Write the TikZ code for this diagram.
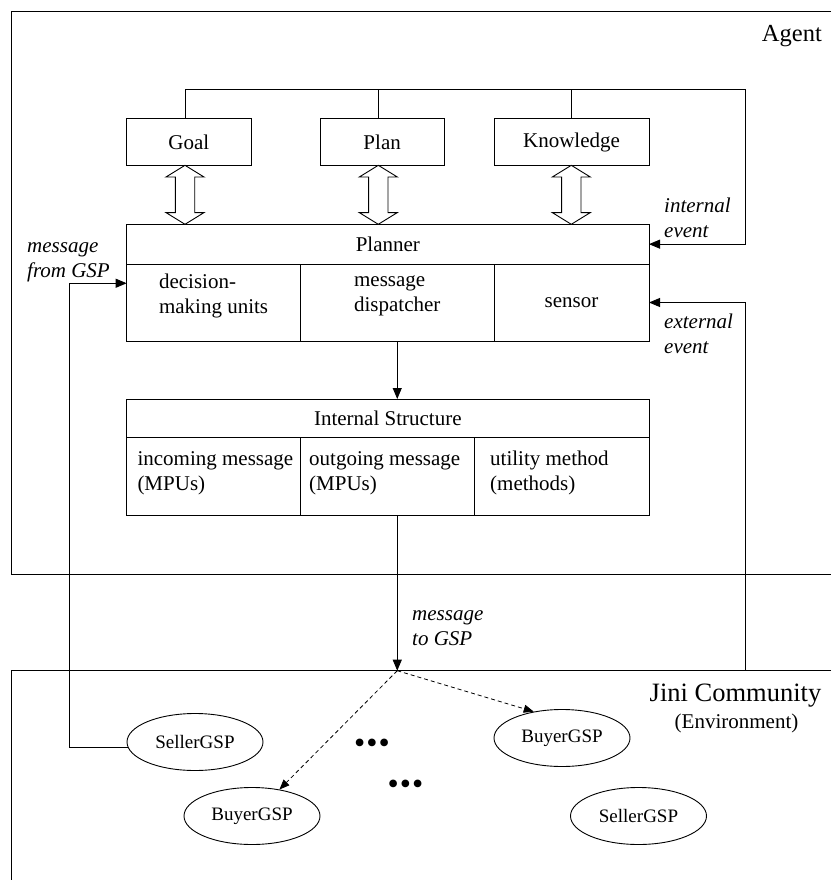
\documentclass[tikz,border=0pt]{standalone}
\usepackage{fontspec}
\setmainfont{Liberation Serif}
\usetikzlibrary{arrows.meta,calc,shapes.geometric}

% hollow two-headed vertical arrow between a top tip (#1) and a bottom tip (#2)
\newcommand\dblarrow[2]{%
  \draw[dbl] (#1) -- ++(19,11.7) -- ++(-9.3,0) -- ($(#2)+(9.7,-11.7)$) -- ++(9.3,0) -- (#2)
    -- ++(-19,-11.7) -- ++(9.3,0) -- ($(#1)+(-9.7,11.7)$) -- ++(-9.3,0) -- cycle;}

\tikzset{
  frame/.style={line width=0.9pt},
  box/.style={draw, line width=0.9pt, inner sep=0pt, outer sep=0pt, anchor=north west,
              font=\fontsize{21}{25}\selectfont},
  txt/.style={inner sep=0pt, align=left, font=\fontsize{21}{25}\selectfont},
  celltxt/.style={txt, anchor=north west},
  lbl/.style={inner sep=0pt, align=left, anchor=north west, font=\fontsize{21}{25}\selectfont\itshape},
  gsp/.style={ellipse, draw, line width=0.9pt, minimum width=136pt, minimum height=57pt,
              inner sep=0pt, font=\fontsize{19}{23}\selectfont},
  arr/.style={line width=0.9pt, -{Triangle[length=11pt,width=9pt]}},
  dasharr/.style={line width=0.8pt, dash pattern=on 4pt off 3pt, -{Triangle[length=10pt,width=8pt]}},
  dbl/.style={line width=0.9pt, fill=white},
  dots/.style={inner sep=0pt, font=\fontsize{32}{36}\selectfont},
}

\begin{document}
\begin{tikzpicture}[x=1pt,y=-1pt]
\useasboundingbox (0,0) rectangle (831,880);

% ---------- Agent frame ----------
\coordinate (anw) at (11,11);
\coordinate (asw) at (11,574);
\draw[frame] (831,11) -- (anw) -- (asw) -- (831,574);
\node[anchor=base east, inner sep=0pt, font=\fontsize{24.5}{28}\selectfont] (agent) at (822,41.7) {Agent};

% ---------- Goal / Plan / Knowledge ----------
\node[box, minimum width=124.3pt, minimum height=46.6pt] (goal) at (126.7,118.7) {Goal};
\node[box, minimum width=124.3pt, minimum height=46.6pt] (plan) at (320,118.7) {Plan};
\node[box, minimum width=155pt, minimum height=46.6pt] (know) at (494,118.7) {Knowledge};

\coordinate (gx) at (185,0);
\coordinate (px) at (378.3,0);
\coordinate (kx) at (571.3,0);
\coordinate (tr) at (745.7,89);

% ---------- Planner ----------
\node[box, minimum width=522.3pt, minimum height=39.7pt] (ph) at (126.7,224.3) {Planner};
\node[box, minimum width=173.8pt, minimum height=77pt] (c1) at (126.7,264) {};
\node[box, minimum width=193.5pt, minimum height=77pt] (c2) at (300.5,264) {};
\node[box, minimum width=155pt, minimum height=77pt] (c3) at (494,264) {sensor};
\node[txt, yshift=7pt] (t1) at (c1.center) {decision-\\making units};
\node[txt, yshift=7pt] (t2) at (c2.center) {message\\dispatcher};

% ---------- Internal Structure ----------
\node[box, minimum width=522.3pt, minimum height=38.7pt] (ish) at (126.7,399) {Internal Structure};
\node[box, minimum width=174pt, minimum height=77.8pt] (d1) at (126.7,437.7) {};
\node[box, minimum width=174pt, minimum height=77.8pt] (d2) at (300.7,437.7) {};
\node[box, minimum width=174.3pt, minimum height=77.8pt] (d3) at (474.7,437.7) {};
\node[celltxt] (u1) at ($(d1.north west)+(10.6,9.8)$) {\strut incoming message\\(MPUs)};
\node[celltxt] (u2) at ($(d2.north west)+(8.3,9.8)$) {\strut outgoing message\\(MPUs)};
\node[celltxt] (u3) at ($(d3.north west)+(15.3,9.8)$) {\strut utility method\\(methods)};

% ---------- feedback loop (internal event) ----------
\draw[arr] (gx |- goal.north) |- (tr) |- (ph.east);
\draw[frame] (px |- plan.north) -- (px |- tr);
\draw[frame] (kx |- know.north) -- (kx |- tr);
\node[lbl] (ie) at (664,194.5) {\strut internal\\event};

% ---------- hollow double arrows ----------
\dblarrow{gx |- goal.south}{gx |- ph.north}
\dblarrow{px |- plan.south}{px |- ph.north}
\dblarrow{kx |- know.south}{kx |- ph.north}

% ---------- Jini community frame ----------
\coordinate (jnw) at (11,670.7);
\draw[frame] (831,670.7) -- (jnw) -- (11,880);
\node[anchor=base, inner sep=0pt, font=\fontsize{26.5}{30}\selectfont] (jini) at (735.5,701.7) {Jini Community};
\node[anchor=base, inner sep=0pt, font=\fontsize{21}{25}\selectfont] (env) at (736.5,728) {(Environment)};

% ---------- services ----------
\node[gsp] (s1) at (195,742) {SellerGSP};
\node[gsp] (b1) at (562,738) {BuyerGSP};
\node[gsp] (b2) at (252,816) {BuyerGSP};
\node[gsp] (s2) at (638.5,816) {SellerGSP};
\node[dots] (dt1) at (372,746) {\textbullet\hspace{1pt}\textbullet\hspace{1pt}\textbullet};
\node[dots] (dt2) at (405.5,787) {\textbullet\hspace{1pt}\textbullet\hspace{1pt}\textbullet};

% ---------- message flow ----------
\draw[arr] (c2.south) -- (c2.south |- ish.north);
\coordinate (split) at (c2.south |- jnw);
\draw[arr] (c2.south |- d2.south) -- (split);
\node[lbl] (mt) at (412,602.5) {\strut message\\to GSP};
\draw[dasharr] (split) -- (b1.137);
\draw[dasharr] (split) -- (b2.44);

% message from GSP
\coordinate (mfx) at (69,0);
\coordinate (c1in) at ($(c1.north west)!0.25!(c1.south west)$);
\draw[arr] (s1.185) -- (s1.185 -| mfx) |- (c1in);
\node[lbl] (mf) at (27,234.5) {\strut message\\from GSP};

% external event
\draw[arr] (tr |- jnw) |- (c3.east);
\node[lbl] (ee) at (664,310.5) {\strut external\\event};
\end{tikzpicture}
\end{document}
